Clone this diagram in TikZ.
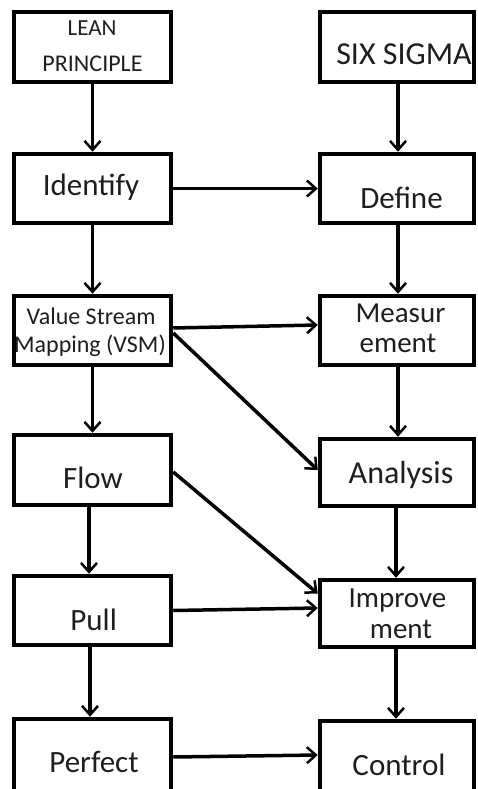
\documentclass[tikz,border=0pt]{standalone}
\usepackage{fontspec}
\setmainfont{Carlito}
\usetikzlibrary{arrows.meta}
\definecolor{txt}{RGB}{30,30,30}
\tikzset{
  box/.style={draw=black, line width=4.5pt, rectangle, inner sep=0pt},
  lbl/.style={anchor=base, inner sep=0pt, text=txt},
  conn/.style={line width=3.5pt, -{Straight Barb[length=9pt,width=16pt,line width=2.5pt]}},
}
\newcommand{\fsz}[1]{\fontsize{#1}{#1}\selectfont}
\begin{document}
\begin{tikzpicture}[x=1pt,y=-1pt]
\useasboundingbox (0,0) rectangle (477,789);
\clip (0,0) rectangle (477,789);
% boxes
\node[box, minimum width=157pt, minimum height=70pt] (lean) at (92.5,47) {};
\node[box, minimum width=154pt, minimum height=70pt] (six) at (397,47) {};
\node[box, minimum width=157pt, minimum height=69pt] (idf) at (92.5,188.5) {};
\node[box, minimum width=154pt, minimum height=69pt] (def) at (397,188.5) {};
\node[box, minimum width=157pt, minimum height=69pt] (vsm) at (92.5,330.5) {};
\node[box, minimum width=154pt, minimum height=69pt] (mea) at (397,330.5) {};
\node[box, minimum width=157pt, minimum height=70pt] (flow) at (92.5,470) {};
\node[box, minimum width=154pt, minimum height=67pt] (ana) at (397,472.5) {};
\node[box, minimum width=157pt, minimum height=69pt] (pull) at (92.5,610.5) {};
\node[box, minimum width=154pt, minimum height=67pt] (imp) at (397,613.5) {};
\node[box, minimum width=157pt, minimum height=82pt] (per) at (92.5,760) {};
\node[box, minimum width=154pt, minimum height=79pt] (con) at (397,760.5) {};
% texts
\node[lbl] (t1a) at (92,36) {\fsz{23}LEAN};
\node[lbl] (t1b) at (92.5,72) {\fsz{24}PRINCIPLE};
\node[lbl] (t2) at (404,65) {\fsz{32}SIX SIGMA};
\node[lbl] (t3) at (91,195) {\fsz{31}Identify};
\node[lbl] (t4) at (401.5,208) {\fsz{31}Define};
\node[lbl] (t5a) at (91,324) {\fsz{24}Value Stream};
\node[lbl] (t5b) at (90,352) {\fsz{24}Mapping (VSM)};
\node[lbl] (t6a) at (400.5,322) {\fsz{29}Measur};
\node[lbl] (t6b) at (398,352) {\fsz{29}ement};
\node[lbl] (t7) at (93,488) {\fsz{31}Flow};
\node[lbl] (t8) at (401,483) {\fsz{32}Analysis};
\node[lbl] (t9a) at (397.5,607) {\fsz{29}Improve};
\node[lbl] (t9b) at (401,638) {\fsz{29}ment};
\node[lbl] (t10) at (93.7,630) {\fsz{31}Pull};
\node[lbl] (t11) at (94,772) {\fsz{31}Perfect};
\node[lbl] (t12) at (399,775) {\fsz{31}Control};
% connectors
\draw[conn] (lean.south) -- (idf.north);
\draw[conn] ([xshift=1pt]six.south) -- ([xshift=1pt]def.north);
\draw[conn] (idf.east) -- (def.west);
\draw[conn] (idf.south) -- (vsm.north);
\draw[conn] ([xshift=1pt]def.south) -- ([xshift=1pt]mea.north);
\draw[conn] ([yshift=2.5pt]vsm.east) -- ([yshift=5.5pt]mea.west);
\draw[conn] ([yshift=-2.5pt]vsm.east) -- ([yshift=2.5pt]ana.west);
\draw[conn] (vsm.south) -- (flow.north);
\draw[conn] ([xshift=1pt]mea.south) -- ([xshift=1pt]ana.north);
\draw[conn] ([yshift=-2pt]flow.east) -- ([yshift=20pt]imp.west);
\draw[conn] ([xshift=-3.5pt]flow.south) -- ([xshift=-3.5pt]pull.north);
\draw[conn] ([xshift=-1pt]ana.south) -- ([xshift=-1pt]imp.north);
\draw[conn] (pull.east) -- ([yshift=5.5pt]imp.west);
\draw[conn] ([xshift=-2.5pt]pull.south) -- ([xshift=-2.5pt]per.north);
\draw[conn] ([xshift=-1pt]imp.south) -- ([xshift=-1pt]con.north);
\draw[conn] ([yshift=3pt]per.east) -- ([yshift=5.5pt]con.west);
\end{tikzpicture}
\end{document}
